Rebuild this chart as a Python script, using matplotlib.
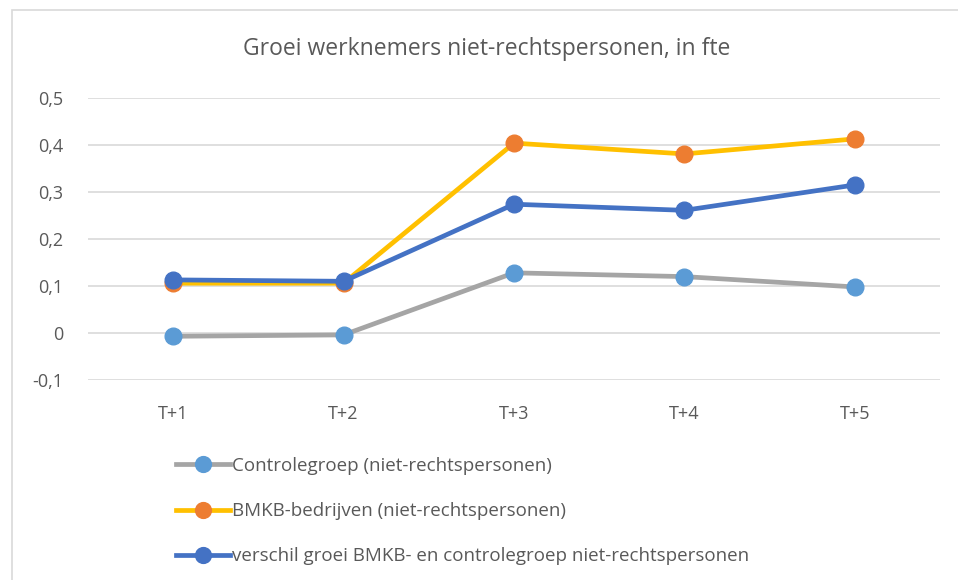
import matplotlib
matplotlib.use("Agg")
import matplotlib.pyplot as plt
from matplotlib.patches import Rectangle

categories = ["T+1", "T+2", "T+3", "T+4", "T+5"]
controle = [-0.007, -0.004, 0.128, 0.120, 0.098]
bmkb = [0.106, 0.106, 0.404, 0.381, 0.413]
verschil = [0.113, 0.110, 0.274, 0.261, 0.315]
yticks = [-0.1, 0, 0.1, 0.2, 0.3, 0.4, 0.5]
ytick_labels = ["-0,1", "0", "0,1", "0,2", "0,3", "0,4", "0,5"]
title = "Groei werknemers niet-rechtspersonen, in fte"
labels = ["Controlegroep (niet-rechtspersonen)",
          "BMKB-bedrijven (niet-rechtspersonen)",
          "verschil groei BMKB- en controlegroep niet-rechtspersonen"]

plt.rcParams['font.family'] = ['Open Sans', 'DejaVu Sans']
txt = "#595959"

W, H = 958, 580
fig = plt.figure(figsize=(W / 100, H / 100), dpi=100)
fig.patches.append(Rectangle((12 / W, -0.01), 1.0, 1 - 10 / H + 0.01, transform=fig.transFigure,
                             fill=False, edgecolor="#d9d9d9", linewidth=1.2))

ax = fig.add_axes([88 / W, 1 - 380 / H, (940 - 88) / W, (380 - 98) / H])
x = list(range(len(categories)))

lw = 3.4
ms = 12
l1, = ax.plot(x, controle, color="#A5A5A5", lw=lw, marker="o", ms=ms,
              markerfacecolor="#5B9BD5", markeredgecolor="#5B9BD5", label=labels[0], zorder=3)
l2, = ax.plot(x, bmkb, color="#FFC000", lw=lw, marker="o", ms=ms,
              markerfacecolor="#ED7D31", markeredgecolor="#ED7D31", label=labels[1], zorder=4)
l3, = ax.plot(x, verschil, color="#4472C4", lw=lw, marker="o", ms=ms,
              markerfacecolor="#4472C4", markeredgecolor="#4472C4", label=labels[2], zorder=5)

ax.set_xlim(-0.5, len(categories) - 0.5)
ax.set_ylim(-0.1, 0.5)
ax.set_yticks(yticks)
ax.set_yticklabels(ytick_labels)
ax.set_xticks(x)
ax.set_xticklabels(categories)
ax.grid(axis="y", color="#d9d9d9", lw=1.2)
ax.set_axisbelow(True)
for s in ax.spines.values():
    s.set_visible(False)
ax.tick_params(length=0, labelsize=13, colors=txt)
ax.tick_params(axis="x", pad=18)
ax.tick_params(axis="y", pad=18)

fig.text(487 / W, 1 - 49 / H, title, ha="center", va="center", fontsize=16.5, color=txt)

leg = fig.legend(handles=[l1, l2, l3], loc="upper left",
                 bbox_to_anchor=(159 / W, 1 - 440 / H), frameon=False,
                 fontsize=13.5, handlelength=2.9, handletextpad=0.1,
                 labelspacing=1.45, labelcolor=txt, markerscale=0.95)

fig.savefig("out.png", dpi=100)
